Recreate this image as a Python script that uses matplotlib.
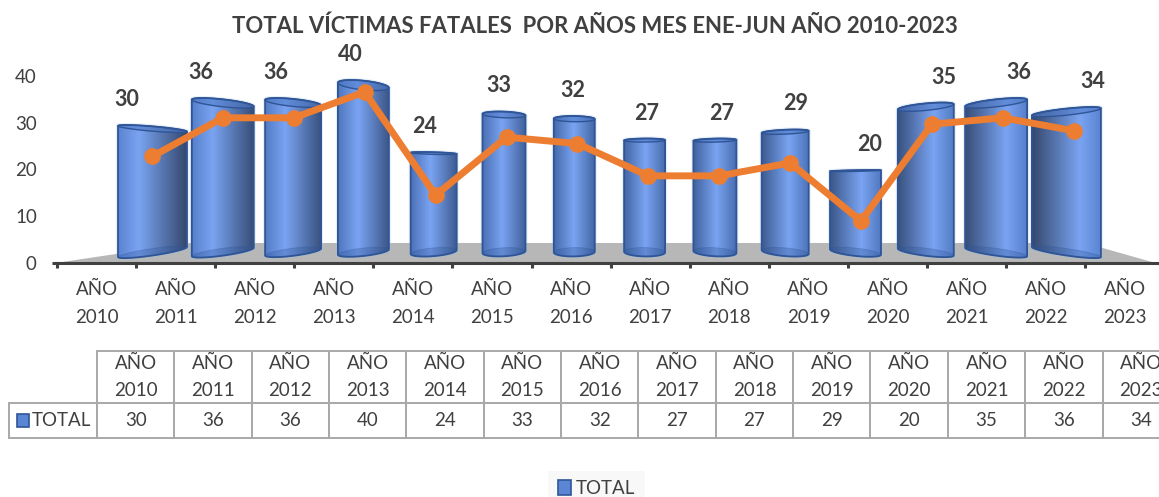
import numpy as np
import matplotlib
matplotlib.use("Agg")
import matplotlib.pyplot as plt
from matplotlib.patches import Polygon, Rectangle, Patch
from matplotlib.colors import to_rgb

# ---- data ----
years = ["AÑO\n2010", "AÑO\n2011", "AÑO\n2012", "AÑO\n2013", "AÑO\n2014", "AÑO\n2015", "AÑO\n2016",
         "AÑO\n2017", "AÑO\n2018", "AÑO\n2019", "AÑO\n2020", "AÑO\n2021", "AÑO\n2022", "AÑO\n2023"]
totals = [30, 36, 36, 40, 24, 33, 32, 27, 27, 29, 20, 35, 36, 34]
series_name = "TOTAL"
title = "TOTAL VÍCTIMAS FATALES  POR AÑOS MES ENE-JUN AÑO 2010-2023"
y_ticks = [0, 10, 20, 30, 40]

# ---- style ----
W, H = 1159, 497
plt.rcParams["font.family"] = ["Lato", "DejaVu Sans"]
TXT = "#404040"
bar_widths_px = [69, 62, 56, 51, 46, 43, 41, 41, 43, 47, 51, 56, 62, 69]

fig = plt.figure(figsize=(W / 100, H / 100), dpi=100)


def px_axes(left, right, top, bottom, z, **kw):
    a = fig.add_axes([left / W, 1 - bottom / H, (right - left) / W, (bottom - top) / H], zorder=z, **kw)
    a.patch.set_alpha(0)
    return a


# page axes, pixel units (floor, table, legend)
page = px_axes(0, W, 0, H, 0)
page.set_xlim(0, W)
page.set_ylim(H, 0)
page.axis("off")
page.add_patch(Polygon([(62, 262), (190, 243), (1085, 243), (1152, 262)], closed=True,
                       fc="#B7B7B7", ec="none"))
page.plot([52, 60], [263, 263], color=TXT, lw=2.2, solid_capstyle="butt")

# value / category axes
ax = px_axes(57, 57 + 79.1 * 14, 76, 263, 1)
ax.set_xlim(-0.5, 13.5)
ax.set_ylim(0, 40)
for s in ("top", "right", "left"):
    ax.spines[s].set_visible(False)
ax.spines["bottom"].set_color(TXT)
ax.spines["bottom"].set_linewidth(2.2)
ax.set_yticks(y_ticks)
ax.tick_params(axis="y", length=0, pad=14.5, labelsize=13.5, labelcolor=TXT)
ax.set_xticks(np.arange(-0.5, 14, 1))
ax.set_xticklabels([])
ax.tick_params(axis="x", which="major", length=3.8, width=2.2, color=TXT)
ax.set_xticks(np.arange(14), minor=True)
ax.set_xticklabels(years, minor=True, fontsize=13.5, color=TXT, linespacing=1.8)
ax.tick_params(axis="x", which="minor", length=0, pad=13)

# bar axes: category i -> 152.5 + 70.3 i px, value v -> 260 - 4.5 v px
BX0, BDX, BY0, BDY = 152.5, 70.3, 260, 4.5
ab = px_axes(0, W, 0, H, 2)
ab.axis("off")
BLIM_X = (-BX0 / BDX, (W - BX0) / BDX)
BLIM_Y = ((BY0 - H) / BDY, BY0 / BDY)


def mix(c1, c2, f):
    return np.array(to_rgb(c1)) * (1 - f) + np.array(to_rgb(c2)) * f


for i, (v, wpx) in enumerate(zip(totals, bar_widths_px)):
    s = (i - 6.5) / 6.5
    rx = wpx / 2 / BDX
    ry_t = max(0.6, (v - 19) * 0.22)
    k_t = -4.0 * s * (v - 15) / 21
    ry_b, k_b = 4.5 - 1.0 * abs(s), 5.0 * s
    yc_t = v - np.hypot(ry_t, k_t) / BDY
    yc_b = (BY0 - 252) / BDY
    t_up = np.linspace(np.pi, 2 * np.pi, 40)
    t_low = np.linspace(0, np.pi, 40)

    def ell(t, yc, ry, k):
        return np.c_[i + rx * np.cos(t), yc - (ry * np.sin(t) + k * np.cos(t)) / BDY]

    body = np.r_[ell(t_up, yc_t, ry_t, k_t), ell(t_low, yc_b, ry_b, k_b)]
    patch = Polygon(body, closed=True, fc="none", ec="#2F5597", lw=1.3, zorder=3)
    halo = Polygon(body, closed=True, fc="none", ec="#9DC3E6", lw=3, alpha=0.25, zorder=1.5)
    ab.add_patch(halo)
    ab.add_patch(patch)

    # gradient across the cylinder
    h = 0.5 + 0.2 * s
    mid = "#4468A8"
    if s < 0:
        c0 = mix(mid, "#5A84D2", -s)
        c1 = mix(mid, "#34486E", -s)
    else:
        c0 = mix(mid, "#34486E", s)
        c1 = mix(mid, "#5A84D2", s)
    hi = to_rgb("#7AA4F2")
    u = np.linspace(0, 1, 128)
    grad = np.stack([np.interp(u, [0, h, 1], [c0[c], hi[c], c1[c]]) for c in range(3)], axis=-1)[None, :, :]
    im = ab.imshow(grad, extent=(i - rx, i + rx, body[:, 1].min(), body[:, 1].max()),
                   aspect="auto", zorder=2, interpolation="bilinear")
    clip = Polygon(body, closed=True, fc="none", ec="none", transform=ab.transData)
    ab.add_patch(clip)
    im.set_clip_path(clip)

    tt = np.linspace(0, 2 * np.pi, 80)
    ab.add_patch(Polygon(ell(tt, yc_t, ry_t, k_t), closed=True, fc="#4F7BC8", alpha=0.55, ec="none", zorder=2.5))
    ab.add_patch(Polygon(ell(tt, yc_t, ry_t, k_t), closed=True, fc="none", ec="#2F5597", lw=1.0, zorder=2.6))
    ab.add_patch(Polygon(ell(tt, yc_b, ry_b, k_b), closed=True, fc="#2F5597", alpha=0.3, ec="#2F5597", lw=0.6, zorder=2.5))

ab.set_xlim(*BLIM_X)
ab.set_ylim(*BLIM_Y)

# line axes: category i -> 152 + 70.9 i px, value v -> 92 + (40 - v) * 6.45 px
al = px_axes(0, W, 0, H, 3)
al.axis("off")
al.set_xlim(-152 / 70.9, (W - 152) / 70.9)
al.set_ylim(40 - (H - 92) / 6.45, 40 + 92 / 6.45)
al.plot(np.arange(len(totals)), totals, color="#ED7D31", lw=5, marker="o", ms=11,
        solid_joinstyle="round", clip_on=False)

# data labels: category i -> 127 + 74.3 i px, value v -> 54 + (40 - v) * 4.5 px
at = px_axes(0, W, 0, H, 4)
at.axis("off")
at.set_xlim(-127 / 74.3, (W - 127) / 74.3)
at.set_ylim(40 - (H - 54.5) / 4.5, 40 + 54.5 / 4.5)
for i, v in enumerate(totals):
    at.text(i, v, str(v), ha="center", va="center", fontsize=15.5, fontweight="bold", color=TXT)

# title
page.text(595, 26, title, ha="center", va="center", fontsize=15.9, fontweight="bold", color=TXT)

# data table
cells = [[""] + [y for y in years], [series_name] + [str(v) for v in totals]]
tbl_x0, first_w, col_w, tbl_top, h1, h2 = 9, 88, 77.35, 351, 52, 35
tw = first_w + col_w * len(totals)
tb = page.table(cellText=cells, cellLoc="center",
                bbox=[tbl_x0 / W, 1 - (tbl_top + h1 + h2) / H, tw / W, (h1 + h2) / H],
                colWidths=[first_w / tw] + [col_w / tw] * len(totals))
tb.auto_set_font_size(False)
tb.set_fontsize(13.5)
for (r, c), cell in tb.get_celld().items():
    cell.set_edgecolor("#A9A9A9")
    cell.set_linewidth(1.4)
    cell.set_facecolor("none")
    cell.get_text().set_color(TXT)
    cell.get_text().set_linespacing(1.65)
    cell.set_height((h1 if r == 0 else h2) / H)
    if r == 0 and c == 0:
        cell.visible_edges = "open"
tb[(1, 0)].PAD = 0.07
tb[(1, 0)].get_text().set_horizontalalignment("right")
page.add_patch(Rectangle((16.5, 414), 12.5, 12.5, fc="#5B86D6", ec="#2F5597", lw=1.2, zorder=5))

# legend
leg = page.legend(handles=[Patch(fc="#5B86D6", ec="#2F5597", lw=1.2)], labels=[series_name],
                  loc="center", bbox_to_anchor=(596.5, 488.5), bbox_transform=page.transData,
                  frameon=True, fancybox=False, facecolor="#F8F8F8", edgecolor="none", framealpha=1,
                  fontsize=13.5, handlelength=0.72, handleheight=0.9, handletextpad=0.25, labelcolor=TXT,
                  borderpad=0.5)

fig.savefig("out.png", dpi=100)
